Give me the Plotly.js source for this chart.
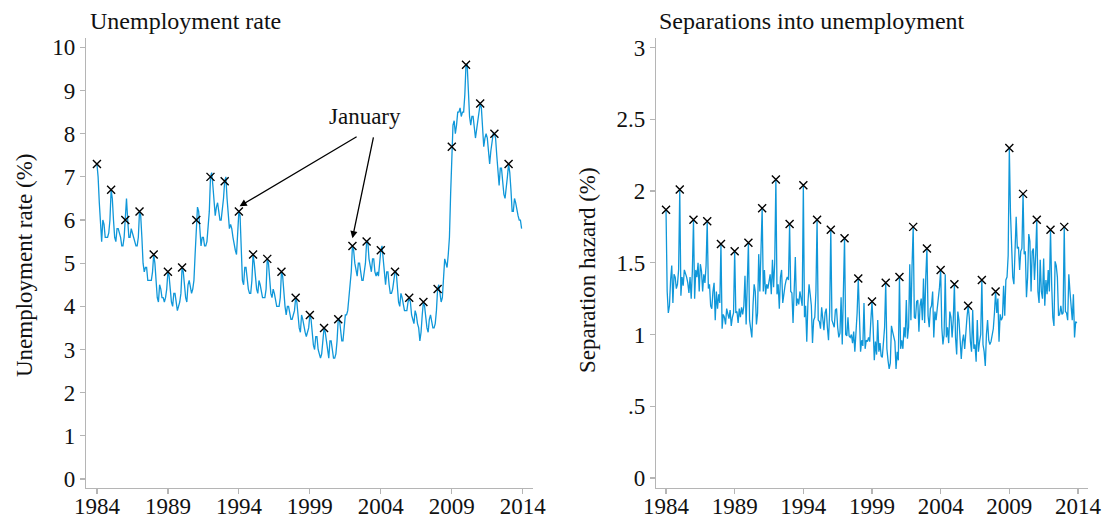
<!DOCTYPE html>
<html>
<head>
<meta charset="utf-8">
<script src="https://cdn.plot.ly/plotly-3.0.1.min.js"></script>
<style>html,body{margin:0;padding:0;background:#fff;}#chart{width:1112px;height:518px;}</style>
</head>
<body>
<div id="chart"></div>
<script>
// Monthly data, January 1984 – December 2013 (one row per year)
const startYear = 1984;
const unemploymentRate = [
  7.3, 7.0, 6.4, 5.8, 5.5, 6.0, 5.9, 5.6, 5.6, 5.6, 5.7, 6.0,
  6.7, 6.5, 6.0, 5.6, 5.5, 5.8, 5.8, 5.7, 5.6, 5.4, 5.4, 5.6,
  6.0, 6.5, 6.0, 5.6, 5.6, 5.8, 5.7, 5.6, 5.5, 5.4, 5.4, 5.6,
  6.2, 6.1, 5.6, 5.0, 4.8, 4.9, 4.9, 4.6, 4.6, 4.6, 4.6, 4.8,
  5.2, 5.0, 4.6, 4.2, 4.1, 4.5, 4.4, 4.2, 4.2, 4.1, 4.2, 4.4,
  4.8, 4.7, 4.4, 4.1, 4.0, 4.3, 4.3, 4.1, 3.9, 4.0, 4.1, 4.3,
  4.9, 4.8, 4.5, 4.2, 4.1, 4.5, 4.6, 4.4, 4.3, 4.4, 4.6, 5.2,
  6.0, 6.3, 6.2, 5.8, 5.4, 5.6, 5.6, 5.4, 5.4, 5.5, 5.8, 6.2,
  7.0, 7.1, 6.8, 6.3, 6.1, 6.3, 6.4, 6.2, 6.0, 6.0, 6.2, 6.5,
  6.9, 7.0, 6.5, 6.0, 5.8, 5.9, 5.8, 5.6, 5.4, 5.3, 5.2, 5.6,
  6.2, 6.1, 5.4, 4.6, 4.5, 4.9, 4.9, 4.6, 4.4, 4.3, 4.3, 4.6,
  5.2, 5.0, 4.6, 4.4, 4.3, 4.6, 4.5, 4.3, 4.2, 4.2, 4.2, 4.4,
  5.1, 5.0, 4.6, 4.3, 4.2, 4.4, 4.3, 4.1, 4.0, 4.0, 4.0, 4.2,
  4.8, 4.7, 4.3, 4.0, 3.8, 4.0, 4.0, 3.8, 3.7, 3.7, 3.8, 3.9,
  4.2, 4.1, 3.8, 3.5, 3.4, 3.8, 3.7, 3.5, 3.4, 3.3, 3.4, 3.5,
  3.8, 3.7, 3.4, 3.1, 3.0, 3.3, 3.3, 3.0, 2.9, 2.8, 2.9, 3.2,
  3.5, 3.4, 3.2, 2.9, 2.8, 3.2, 3.2, 3.0, 2.8, 2.8, 2.9, 3.2,
  3.7, 3.7, 3.5, 3.2, 3.2, 3.6, 3.8, 3.8, 3.9, 4.2, 4.5, 4.8,
  5.4, 5.3, 5.0, 4.8, 4.7, 5.0, 5.0, 4.8, 4.6, 4.6, 4.8, 5.0,
  5.5, 5.5, 5.1, 4.9, 4.8, 5.1, 5.1, 4.8, 4.7, 4.8, 4.7, 5.0,
  5.3, 5.4, 5.1, 4.7, 4.5, 4.8, 4.8, 4.5, 4.3, 4.3, 4.4, 4.6,
  4.8, 4.8, 4.4, 4.1, 4.0, 4.3, 4.2, 4.0, 3.9, 3.9, 3.9, 4.1,
  4.2, 4.1, 3.8, 3.7, 3.6, 3.9, 3.8, 3.6, 3.5, 3.2, 3.4, 3.8,
  4.1, 4.0, 3.7, 3.5, 3.4, 3.7, 3.8, 3.6, 3.5, 3.5, 3.6, 3.9,
  4.4, 4.5, 4.3, 4.1, 4.2, 4.6, 5.1, 5.0, 4.9, 5.2, 5.6, 6.6,
  7.7, 8.2, 8.3, 8.0, 8.2, 8.5, 8.5, 8.6, 8.4, 8.5, 8.5, 8.9,
  9.6, 9.6, 9.0, 8.4, 8.2, 8.4, 8.4, 8.2, 7.9, 8.1, 8.3, 8.4,
  8.7, 8.6, 8.2, 7.7, 7.9, 8.0, 7.9, 7.6, 7.3, 7.6, 7.8, 8.0,
  8.0, 7.9, 7.5, 7.0, 6.8, 7.2, 7.2, 6.9, 6.6, 6.5, 6.7, 7.0,
  7.3, 7.1, 6.7, 6.2, 6.2, 6.5, 6.4, 6.2, 6.1, 6.0, 6.0, 5.8
];
const separationHazard = [
  1.87, 1.30, 1.15, 1.20, 1.38, 1.48, 1.22, 1.42, 1.40, 1.32, 1.35, 1.45,
  2.01, 1.27, 1.40, 1.34, 1.45, 1.43, 1.40, 1.36, 1.29, 1.40, 1.25, 1.44,
  1.80, 1.25, 1.45, 1.40, 1.50, 1.30, 1.49, 1.44, 1.30, 1.42, 1.36, 1.48,
  1.79, 1.32, 1.35, 1.20, 1.18, 1.30, 1.36, 1.10, 1.30, 1.18, 1.28, 1.22,
  1.63, 1.04, 1.14, 1.12, 1.07, 1.18, 1.15, 1.11, 1.17, 1.06, 1.12, 1.15,
  1.58, 1.15, 1.16, 1.08, 1.18, 1.12, 1.19, 1.14, 1.20, 1.41, 1.07, 1.30,
  1.64, 1.10, 1.05, 0.98, 1.20, 1.35, 1.30, 1.07, 1.15, 1.56, 1.30, 1.57,
  1.88, 1.30, 1.45, 1.28, 1.35, 1.32, 1.36, 1.42, 1.28, 1.52, 1.33, 1.50,
  2.08, 1.28, 1.35, 1.18, 1.40, 1.45, 1.22, 1.30, 1.34, 1.38, 1.40, 1.38,
  1.77, 1.30, 1.29, 1.08, 1.30, 1.54, 1.20, 1.25, 1.21, 1.30, 1.25, 1.20,
  2.04, 1.12, 1.20, 0.95, 1.22, 1.35, 1.28, 1.20, 0.94, 1.10, 1.12, 1.30,
  1.80, 1.10, 1.09, 1.04, 1.19, 1.10, 1.03, 1.15, 1.18, 1.05, 0.96, 1.16,
  1.73, 1.10, 1.08, 1.05, 1.17, 1.18, 1.05, 0.98, 1.01, 1.26, 0.93, 1.26,
  1.67, 1.00, 0.99, 1.12, 0.99, 0.98, 1.00, 0.94, 1.02, 0.88, 1.02, 1.15,
  1.39, 1.15, 0.88, 0.96, 0.92, 1.22, 0.90, 0.96, 0.95, 0.98, 0.95, 1.10,
  1.23, 1.05, 0.82, 0.95, 0.86, 1.10, 0.88, 0.94, 0.85, 0.84, 0.93, 1.05,
  1.36, 0.90, 0.82, 0.76, 0.80, 1.06, 1.02, 0.98, 0.95, 0.76, 0.88, 0.82,
  1.40, 0.90, 0.96, 0.90, 1.05, 0.98, 1.24, 0.97, 1.05, 1.49, 1.10, 1.48,
  1.75, 1.12, 1.11, 1.23, 1.24, 1.02, 1.20, 1.25, 1.10, 1.39, 1.08, 1.40,
  1.60, 1.13, 1.05, 1.18, 1.20, 1.30, 0.98, 1.16, 1.10, 1.18, 1.25, 1.33,
  1.45, 1.05, 0.93, 1.00, 1.42, 0.98, 1.05, 0.94, 1.16, 1.12, 0.98, 1.10,
  1.35, 0.98, 0.86, 1.16, 1.10, 0.98, 0.83, 0.95, 1.00, 0.90, 1.05, 1.12,
  1.20, 1.12, 0.95, 0.88, 1.17, 0.90, 0.93, 0.81, 1.10, 0.88, 0.95, 1.00,
  1.38, 0.93, 0.88, 0.78, 1.00, 1.10, 0.96, 0.93, 0.95, 1.00, 1.04, 1.15,
  1.30, 1.15, 1.25, 0.95, 1.14, 1.10, 1.12, 1.34, 1.13, 1.38, 1.40, 1.55,
  2.30, 1.85, 1.60, 1.40, 1.35, 1.65, 1.82, 1.60, 1.61, 1.45, 1.58, 1.60,
  1.98, 1.56, 1.58, 1.26, 1.40, 1.70, 1.65, 1.30, 1.58, 1.60, 1.38, 1.55,
  1.80, 1.30, 1.22, 1.52, 1.30, 1.25, 1.53, 1.20, 1.38, 1.28, 1.45, 1.30,
  1.73, 1.35, 1.12, 1.06, 1.51, 1.48, 1.40, 1.13, 1.14, 1.20, 1.14, 1.15,
  1.75, 1.16, 1.15, 1.10, 1.42, 1.30, 1.18, 1.10, 1.28, 0.98, 1.09, 1.08
];
const xTickYears = [1984, 1989, 1994, 1999, 2004, 2009, 2014];
const leftYTicks = [0, 1, 2, 3, 4, 5, 6, 7, 8, 9, 10];
const rightYTicks = [0, 0.5, 1, 1.5, 2, 2.5, 3];
const rightYTickText = ["0", ".5", "1", "1.5", "2", "2.5", "3"];

const monthTime = unemploymentRate.map((_, i) => startYear + i / 12);
const janIdx = monthTime.map((_, i) => i).filter(i => i % 12 === 0);

const FONT = "Liberation Serif, 'Times New Roman', serif";
const LINE = "#0f97d9";
const AX = "#b5b5b5";
const TXT = "#111";

function lineTrace(y, xa, ya) {
  return {x: monthTime, y: y, xaxis: xa, yaxis: ya, type: "scatter", mode: "lines",
    line: {color: LINE, width: 1.3}, hoverinfo: "skip", showlegend: false};
}
function janTrace(y, xa, ya) {
  return {x: janIdx.map(i => monthTime[i]), y: janIdx.map(i => y[i]), xaxis: xa, yaxis: ya,
    type: "scatter", mode: "markers",
    marker: {symbol: "x-thin", size: 8, color: "#000", line: {color: "#000", width: 1.4}},
    hoverinfo: "skip", showlegend: false};
}

const data = [
  lineTrace(unemploymentRate, "x", "y"), janTrace(unemploymentRate, "x", "y"),
  lineTrace(separationHazard, "x2", "y2"), janTrace(separationHazard, "x2", "y2")
];

const baseX = {
  range: [1983.23, 2014.72], tickvals: xTickYears, ticktext: xTickYears.map(String),
  showgrid: false, zeroline: false, showline: true, linecolor: AX, linewidth: 1.2,
  ticks: "outside", ticklen: 5, tickcolor: AX, tickwidth: 1.2, ticklabelstandoff: -8,
  tickfont: {family: FONT, size: 23, color: TXT}, fixedrange: true
};
const baseY = {
  showgrid: false, zeroline: false, showline: true, linecolor: AX, linewidth: 1.2,
  ticks: "outside", ticklen: 5, tickcolor: AX, tickwidth: 1.2,
  tickfont: {family: FONT, size: 23, color: TXT}, fixedrange: true
};

const layout = {
  width: 1112, height: 518,
  margin: {l: 0, r: 0, t: 0, b: 0},
  paper_bgcolor: "#fff", plot_bgcolor: "#fff",
  font: {family: FONT, color: TXT},
  xaxis: Object.assign({}, baseX, {domain: [86/1112, 533/1112], anchor: "y"}),
  yaxis: Object.assign({}, baseY, {domain: [30/518, 480.5/518], anchor: "x",
    range: [-0.21, 10.23], tickvals: leftYTicks, ticktext: leftYTicks.map(String)}),
  xaxis2: Object.assign({}, baseX, {domain: [656/1112, 1088/1112], anchor: "y2",
    range: [1983.27, 2014.73]}),
  yaxis2: Object.assign({}, baseY, {domain: [30/518, 480.5/518], anchor: "x2",
    range: [-0.07, 3.07], tickvals: rightYTicks, ticktext: rightYTickText}),
  annotations: [
    {text: "Unemployment rate", xref: "paper", yref: "paper", x: 88/1112, y: (518-21)/518,
     xanchor: "left", yanchor: "middle", showarrow: false, font: {family: FONT, size: 24, color: TXT}},
    {text: "Separations into unemployment", xref: "paper", yref: "paper", x: 657/1112, y: (518-21)/518,
     xanchor: "left", yanchor: "middle", showarrow: false, font: {family: FONT, size: 24, color: TXT}},
    {text: "Unemployment rate (%)", xref: "paper", yref: "paper", x: 24/1112, y: (518-265)/518,
     xanchor: "center", yanchor: "middle", textangle: -90, showarrow: false, font: {family: FONT, size: 23, color: TXT}},
    {text: "Separation hazard (%)", xref: "paper", yref: "paper", x: 587/1112, y: (518-270)/518,
     xanchor: "center", yanchor: "middle", textangle: -90, showarrow: false, font: {family: FONT, size: 23, color: TXT}},
    {text: "January", xref: "x", yref: "y", x: 2002.9, y: 8.4, showarrow: false,
     font: {family: FONT, size: 23, color: TXT}},
    {text: "", xref: "x", yref: "y", x: 1994.05, y: 6.32, axref: "x", ayref: "y", ax: 2002.4, ay: 7.95,
     showarrow: true, arrowhead: 2, arrowsize: 1.1, arrowwidth: 1.3, arrowcolor: "#000"},
    {text: "", xref: "x", yref: "y", x: 2002.0, y: 5.58, axref: "x", ayref: "y", ax: 2003.5, ay: 7.95,
     showarrow: true, arrowhead: 2, arrowsize: 1.1, arrowwidth: 1.3, arrowcolor: "#000"}
  ]
};

Plotly.newPlot("chart", data, layout, {displayModeBar: false, staticPlot: true});
</script>
</body>
</html>
